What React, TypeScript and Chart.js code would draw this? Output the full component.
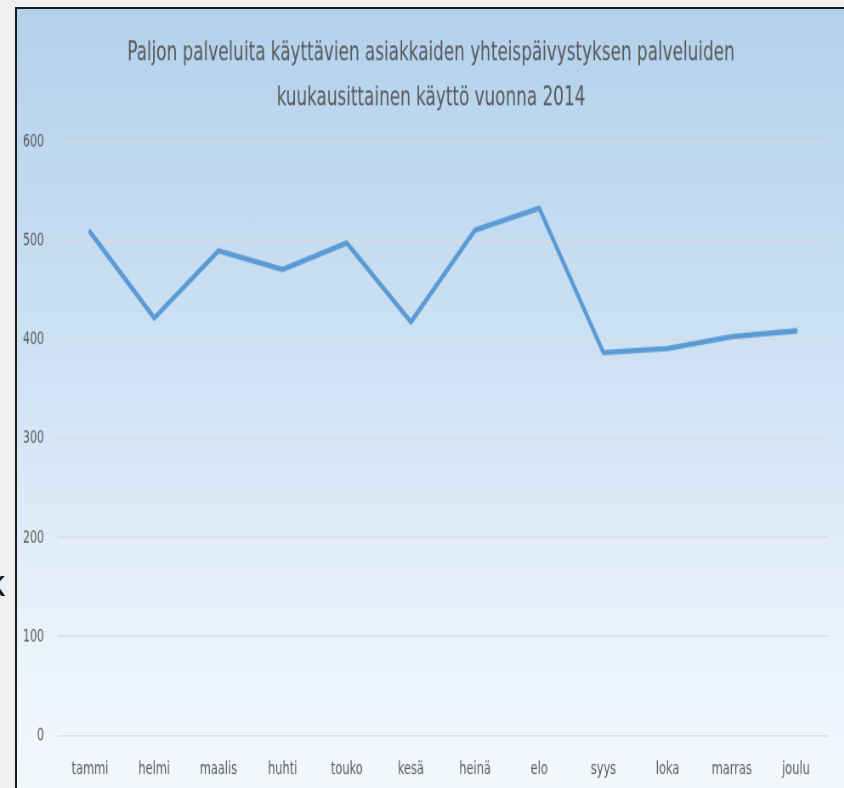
import React, { useEffect, useRef } from "react";
import { Chart, registerables } from "chart.js";

Chart.register(...registerables);

const titleLines = [
  "Paljon palveluita käyttävien asiakkaiden yhteispäivystyksen palveluiden",
  "kuukausittainen käyttö vuonna 2014",
];
const months = ["tammi", "helmi", "maalis", "huhti", "touko", "kesä", "heinä", "elo", "syys", "loka", "marras", "joulu"];
const usage = [509, 422, 490, 471, 498, 418, 511, 533, 387, 391, 403, 409];
const yTicks = [0, 100, 200, 300, 400, 500, 600];

const FONT = "'Liberation Sans Narrow', 'DejaVu Sans Condensed', sans-serif";
const SX = 0.85;
const SY = 1.25;
const CW = 974;
const CH = 623;

export default function App() {
  const ref = useRef<HTMLCanvasElement | null>(null);

  useEffect(() => {
    document.body.style.margin = "0";
    document.body.style.background = "#efefef";
    const canvas = ref.current!;
    const chart = new Chart(canvas, {
      type: "line",
      data: {
        labels: months,
        datasets: [
          {
            data: usage,
            borderColor: "#5b9bd5",
            borderWidth: 4.3,
            pointRadius: 0,
            tension: 0,
            borderJoinStyle: "round",
            borderCapStyle: "round",
            fill: false,
            yAxisID: "y",
          },
        ],
      },
      options: {
        animation: false,
        responsive: false,
        devicePixelRatio: 1,
        layout: { padding: 0 },
        plugins: {
          legend: { display: false },
          tooltip: { enabled: false },
          title: {
            display: true,
            text: titleLines,
            color: "#595959",
            font: { family: FONT, size: 22, weight: "normal", lineHeight: 36 / 22 },
            padding: { top: 16.8, bottom: 17.6 },
          },
        },
        scales: {
          x: {
            offset: true,
            grid: { display: false },
            border: { display: false },
            ticks: {
              color: "#595959",
              font: { family: FONT, size: 14.9 },
              padding: 10,
              maxRotation: 0,
            },
            afterFit: (s: any) => {
              s.height = 42;
            },
          },
          y: {
            position: "left",
            min: yTicks[0],
            max: yTicks[yTicks.length - 1],
            afterBuildTicks: (s: any) => {
              s.ticks = yTicks.map((v) => ({ value: v }));
            },
            grid: { color: "#d9d9d9", lineWidth: 1, drawTicks: false },
            border: { display: false },
            ticks: {
              color: "#595959",
              font: { family: FONT, size: 14.4 },
              padding: 16.4,
            },
            afterFit: (s: any) => {
              s.width = 48.2;
            },
          },
          yRight: {
            position: "right",
            min: yTicks[0],
            max: yTicks[yTicks.length - 1],
            grid: { display: false, drawTicks: false },
            border: { display: false },
            ticks: { display: false },
            afterFit: (s: any) => {
              s.width = 19.9;
            },
          },
        },
      },
    });
    return () => chart.destroy();
  }, []);

  return (
    <div style={{ position: "relative", width: 844, height: 788, overflow: "hidden", background: "#efefef" }}>
      <span
        style={{
          position: "absolute",
          left: -13,
          top: 566,
          fontFamily: "'Liberation Sans', Arial, sans-serif",
          fontSize: 36,
          lineHeight: "36px",
          color: "#111",
        }}
      >
        k
      </span>
      <div
        style={{
          position: "absolute",
          left: 15,
          top: 7,
          width: 840,
          height: 795,
          border: "2px solid #1c1c1c",
          overflow: "hidden",
          background: "linear-gradient(to bottom, #b3d1ec 0%, #cfe2f4 45%, #eef5fc 85%, #f4f8fd 100%)",
        }}
      >
        <div style={{ width: CW, height: CH, transform: `scale(${SX}, ${SY})`, transformOrigin: "top left" }}>
          <canvas ref={ref} width={CW} height={CH} style={{ width: CW, height: CH, display: "block" }} />
        </div>
      </div>
    </div>
  );
}
